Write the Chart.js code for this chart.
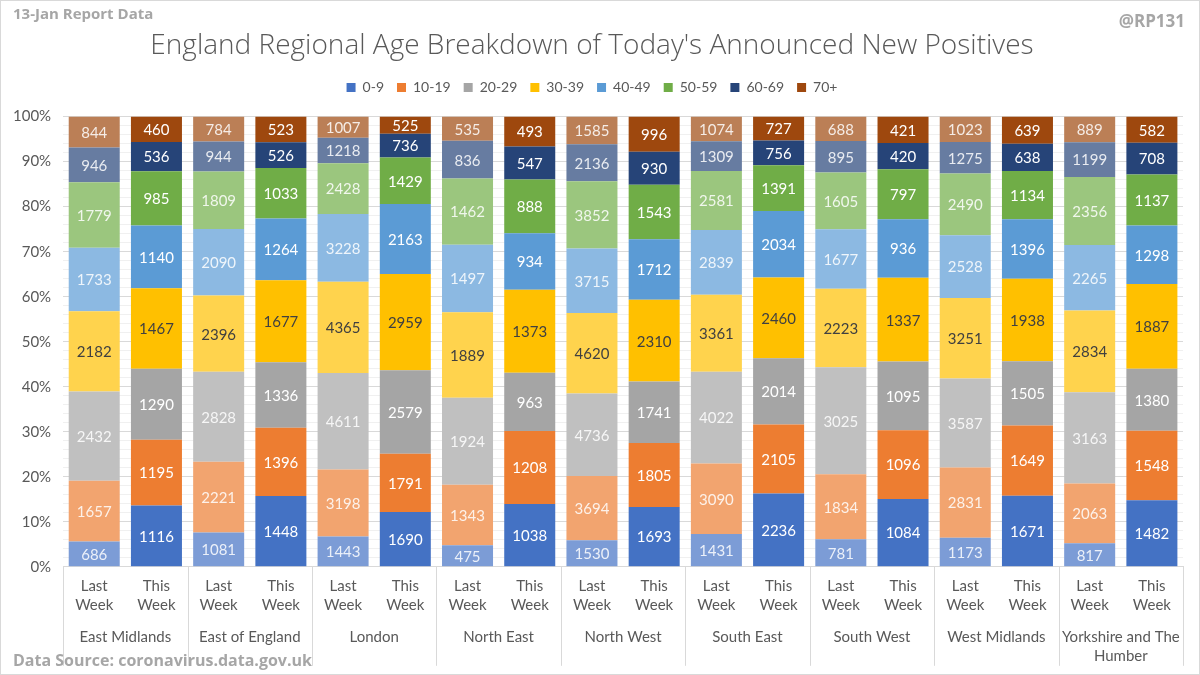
<!DOCTYPE html>
<html>
<head>
<script src="https://cdn.jsdelivr.net/npm/chart.js@4.4.0/dist/chart.umd.min.js"></script>
<style>
  body { margin: 0; background: #fff; }
  #wrap { position: relative; width: 1198px; height: 673px; border: 1px solid #d9d9d9; }
  .note { position: absolute; font-family: "Open Sans"; font-weight: bold; color: #a6a6a6; }
</style>
</head>
<body>
<div id="wrap">
  <canvas id="chart" width="1198" height="673"></canvas>
  <div class="note" style="left:12px;top:2px;font-size:15px">13-Jan Report Data</div>
  <div class="note" style="right:14px;top:8px;font-size:17px">@RP131</div>
  <div class="note" style="left:12px;top:648px;font-size:16px">Data Source: coronavirus.data.gov.uk</div>
</div>
<script>
  var regions = ['East Midlands', 'East of England', 'London', 'North East', 'North West',
                 'South East', 'South West', 'West Midlands', 'Yorkshire and The Humber'];
  var weeks = [['Last', 'Week'], ['This', 'Week']];
  var ageGroups = ['0-9', '10-19', '20-29', '30-39', '40-49', '50-59', '60-69', '70+'];

  // one value per bar: region by region, last week then this week
  var age0_9   = [686, 1116, 1081, 1448, 1443, 1690, 475, 1038, 1530, 1693, 1431, 2236, 781, 1084, 1173, 1671, 817, 1482];
  var age10_19 = [1657, 1195, 2221, 1396, 3198, 1791, 1343, 1208, 3694, 1805, 3090, 2105, 1834, 1096, 2831, 1649, 2063, 1548];
  var age20_29 = [2432, 1290, 2828, 1336, 4611, 2579, 1924, 963, 4736, 1741, 4022, 2014, 3025, 1095, 3587, 1505, 3163, 1380];
  var age30_39 = [2182, 1467, 2396, 1677, 4365, 2959, 1889, 1373, 4620, 2310, 3361, 2460, 2223, 1337, 3251, 1938, 2834, 1887];
  var age40_49 = [1733, 1140, 2090, 1264, 3228, 2163, 1497, 934, 3715, 1712, 2839, 2034, 1677, 936, 2528, 1396, 2265, 1298];
  var age50_59 = [1779, 985, 1809, 1033, 2428, 1429, 1462, 888, 3852, 1543, 2581, 1391, 1605, 797, 2490, 1134, 2356, 1137];
  var age60_69 = [946, 536, 944, 526, 1218, 736, 836, 547, 2136, 930, 1309, 756, 895, 420, 1275, 638, 1199, 708];
  var age70up  = [844, 460, 784, 523, 1007, 525, 535, 493, 1585, 996, 1074, 727, 688, 421, 1023, 639, 889, 582];

  var counts = [age0_9, age10_19, age20_29, age30_39, age40_49, age50_59, age60_69, age70up];
  var colours = ['#4472C4', '#ED7D31', '#A5A5A5', '#FFC000', '#5B9BD5', '#70AD47', '#264478', '#9E480E'];

  function lighten(hex) {
    var r = parseInt(hex.substr(1, 2), 16), g = parseInt(hex.substr(3, 2), 16), b = parseInt(hex.substr(5, 2), 16);
    return 'rgb(' + Math.round(r * 0.7 + 76.5) + ',' + Math.round(g * 0.7 + 76.5) + ',' + Math.round(b * 0.7 + 76.5) + ')';
  }

  var barLabels = [];
  regions.forEach(function () { barLabels.push(weeks[0], weeks[1]); });

  var totals = barLabels.map(function (l, j) {
    return counts.reduce(function (s, c) { return s + c[j]; }, 0);
  });

  var datasets = ageGroups.map(function (g, i) {
    return {
      label: g,
      data: counts[i].map(function (v, j) { return v / totals[j] * 100; }),
      backgroundColor: function (c) { return c.dataIndex % 2 === 0 ? lighten(colours[i]) : colours[i]; },
      borderWidth: 0,
      barPercentage: 0.82,
      categoryPercentage: 1
    };
  });

  var segmentLabels = {
    id: 'segmentLabels',
    afterDatasetsDraw: function (chart) {
      var ctx = chart.ctx;
      ctx.save();
      ctx.font = '15px Lato';
      ctx.textAlign = 'center';
      ctx.textBaseline = 'middle';
      chart.data.datasets.forEach(function (ds, i) {
        chart.getDatasetMeta(i).data.forEach(function (bar, j) {
          var p = bar.getProps(['x', 'y', 'base'], true);
          if (i === 3) ctx.fillStyle = '#404040';
          else ctx.fillStyle = j % 2 === 0 ? 'rgba(255,255,255,0.85)' : '#ffffff';
          ctx.fillText(counts[i][j], p.x, (p.y + p.base) / 2 + 1);
        });
      });
      ctx.restore();
    }
  };

  var regionLines = {
    id: 'regionLines',
    afterDraw: function (chart) {
      var ctx = chart.ctx, sx = chart.scales.x, area = chart.chartArea;
      var w = sx.width / regions.length;
      ctx.save();
      ctx.strokeStyle = '#d9d9d9';
      ctx.lineWidth = 1;
      for (var k = 0; k <= regions.length; k++) {
        var x = Math.round(sx.left + k * w) + 0.5;
        ctx.beginPath();
        ctx.moveTo(x, area.bottom);
        ctx.lineTo(x, area.bottom + 99);
        ctx.stroke();
      }
      ctx.restore();
    }
  };

  // extra room between the legend and the plot
  var legendGap = {
    id: 'legendGap',
    beforeInit: function (chart) {
      var fit = chart.legend.fit;
      chart.legend.fit = function () {
        fit.bind(chart.legend)();
        this.height += 12;
      };
    }
  };

  new Chart(document.getElementById('chart'), {
    type: 'bar',
    data: { labels: barLabels, datasets: datasets },
    plugins: [segmentLabels, regionLines, legendGap],
    options: {
      responsive: false,
      animation: false,
      layout: { padding: { left: 0, right: 16, top: 0, bottom: 5 } },
      plugins: {
        title: {
          display: true,
          text: "England Regional Age Breakdown of Today's Announced New Positives",
          color: '#595959',
          font: { family: 'Open Sans', size: 28, weight: '300' },
          padding: { top: 28, bottom: 5 }
        },
        legend: {
          position: 'top',
          labels: {
            color: '#595959',
            font: { family: 'Lato', size: 14 },
            boxWidth: 9,
            boxHeight: 9,
            padding: 13,
            generateLabels: function (chart) {
              var items = Chart.defaults.plugins.legend.labels.generateLabels(chart);
              items.forEach(function (it) {
                it.fillStyle = colours[it.datasetIndex];
                it.strokeStyle = colours[it.datasetIndex];
                it.lineWidth = 0;
              });
              return items;
            }
          }
        },
        tooltip: { enabled: false }
      },
      scales: {
        x: {
          stacked: true,
          grid: { display: false, drawTicks: false },
          border: { color: '#d9d9d9' },
          ticks: { color: '#595959', font: { family: 'Lato', size: 15, lineHeight: 1.27 }, maxRotation: 0, autoSkip: false, padding: 10 }
        },
        x2: {
          type: 'category',
          labels: regions,
          position: 'bottom',
          offset: true,
          grid: { display: false, drawTicks: false },
          border: { display: false },
          ticks: {
            color: '#595959',
            font: { family: 'Lato', size: 15, lineHeight: 1.27 },
            maxRotation: 0,
            autoSkip: false,
            padding: 3,
            callback: function (v) {
              var s = this.getLabelForValue(v);
              if (s.length < 20) return s;
              var k = s.lastIndexOf(' ');
              return [s.slice(0, k), s.slice(k + 1)];
            }
          }
        },
        y: {
          stacked: true,
          min: 0,
          max: 100,
          border: { display: false },
          grid: {
            color: function (c) { return c.tick && c.tick.value % 10 === 0 ? '#d9d9d9' : '#f0f0f0'; },
            drawTicks: false
          },
          ticks: {
            stepSize: 2,
            autoSkip: false,
            color: '#595959',
            font: { family: 'Lato', size: 15 },
            padding: 12,
            callback: function (v) { return v % 10 === 0 ? v + '%' : ''; }
          }
        }
      }
    }
  });
</script>
</body>
</html>
